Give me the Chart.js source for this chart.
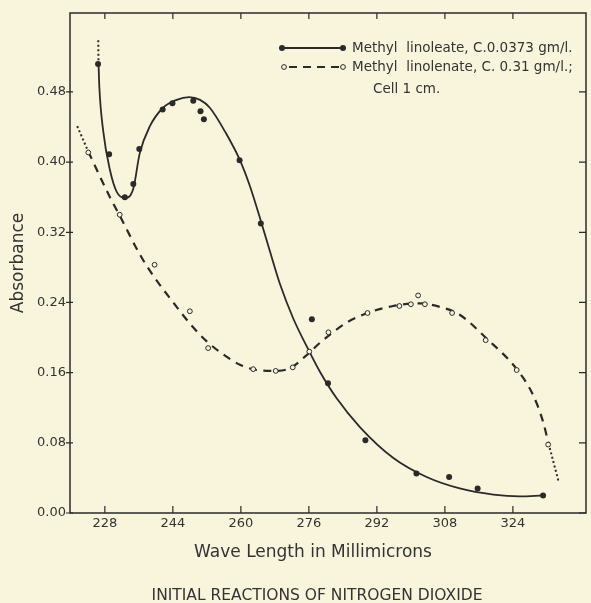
<!DOCTYPE html>
<html>
<head>
<meta charset="utf-8">
<script src="https://cdn.jsdelivr.net/npm/chart.js@4.4.1/dist/chart.umd.min.js"></script>
<style>
  html, body { margin: 0; padding: 0; background: #f8f5dc; }
  #wrap { width: 591px; height: 603px; position: relative; }
</style>
</head>
<body>
<div id="wrap"><canvas id="chart"></canvas></div>
<script>
// tick labels
const xTicks = [228, 244, 260, 276, 292, 308, 324];
const yTicks = [0, 0.08, 0.16, 0.24, 0.32, 0.40, 0.48];

// measured points, methyl linoleate (filled dots)
const linoleateWl = [226.4, 229.0, 232.7, 234.7, 236.1, 241.6, 243.9, 248.8, 250.5, 251.3, 259.7, 264.7, 276.7, 280.5, 289.3, 301.3, 309.0, 315.7, 331.1];
const linoleateAbs = [0.512, 0.409, 0.360, 0.375, 0.415, 0.460, 0.467, 0.470, 0.458, 0.449, 0.402, 0.330, 0.221, 0.148, 0.083, 0.045, 0.041, 0.028, 0.020];

// measured points, methyl linolenate (open circles)
const linolenateWl = [224.1, 231.5, 239.7, 248.0, 252.3, 262.9, 268.2, 272.2, 276.1, 280.6, 289.8, 297.3, 300.0, 301.7, 303.3, 309.7, 317.6, 324.9, 332.3];
const linolenateAbs = [0.411, 0.340, 0.283, 0.230, 0.188, 0.164, 0.162, 0.166, 0.184, 0.206, 0.228, 0.236, 0.238, 0.248, 0.238, 0.228, 0.197, 0.163, 0.078];

// drawn curves
const linoleateCurveWl = [226.5, 226.7, 227.6, 229.2, 230.8, 232.7, 234.7, 236.2, 238.6, 241.7, 244.9, 247.8, 250.4, 252.7, 256.6, 259.8, 262.1, 264.7, 266.8, 269.2, 272.3, 275.8, 278.6, 282.5, 288.0, 295.8, 303.7, 311.5, 319.4, 325.6, 331.1];
const linoleateCurveAbs = [0.514, 0.486, 0.436, 0.391, 0.366, 0.359, 0.370, 0.410, 0.441, 0.462, 0.471, 0.474, 0.471, 0.462, 0.432, 0.402, 0.373, 0.333, 0.299, 0.261, 0.222, 0.187, 0.161, 0.131, 0.098, 0.063, 0.041, 0.028, 0.021, 0.019, 0.020];
const linoleateDottedWl = [226.45, 226.5];
const linoleateDottedAbs = [0.539, 0.514];

const linolenateCurveWl = [224.1, 229.2, 231.5, 236.2, 239.6, 244.1, 248.0, 251.9, 255.8, 259.8, 263.7, 267.6, 271.5, 275.5, 278.6, 284.9, 289.8, 295.8, 302.1, 306.8, 311.5, 317.8, 324.9, 328.8, 331.1, 332.4];
const linolenateCurveAbs = [0.412, 0.360, 0.339, 0.295, 0.269, 0.240, 0.216, 0.196, 0.181, 0.169, 0.163, 0.162, 0.165, 0.180, 0.194, 0.217, 0.228, 0.236, 0.239, 0.235, 0.226, 0.199, 0.164, 0.134, 0.104, 0.079];
const linolenateStartWl = [221.5, 224.1];
const linolenateStartAbs = [0.441, 0.412];
const linolenateEndWl = [332.4, 334.8];
const linolenateEndAbs = [0.079, 0.035];

const paper = "#f8f5dc";
const ink = "#2a2a2a";
const font = "'DejaVu Sans', sans-serif";

const pts = (xs, ys) => xs.map((x, i) => ({ x, y: ys[i] }));

function curve(xs, ys, dash, width) {
  return {
    data: pts(xs, ys),
    showLine: true,
    borderColor: ink,
    borderWidth: width || 1.8,
    borderDash: dash || [],
    pointRadius: 0,
    cubicInterpolationMode: "monotone",
    order: 2
  };
}

const framePlugin = {
  id: "frame",
  beforeDraw(chart) {
    const { ctx, width, height } = chart;
    ctx.save();
    ctx.fillStyle = paper;
    ctx.fillRect(0, 0, width, height);
    ctx.restore();
  },
  afterDraw(chart) {
    const { ctx, chartArea: a, scales } = chart;
    const xs = scales.x, ys = scales.y;
    ctx.save();
    ctx.strokeStyle = ink;
    ctx.lineWidth = 1.5;
    ctx.strokeRect(a.left, a.top, a.right - a.left, a.bottom - a.top);
    ctx.lineWidth = 1.2;
    ctx.beginPath();
    xTicks.forEach(v => {
      const x = xs.getPixelForValue(v);
      ctx.moveTo(x, a.bottom); ctx.lineTo(x, a.bottom - 7);
      ctx.moveTo(x, a.top); ctx.lineTo(x, a.top + 6);
    });
    yTicks.forEach(v => {
      const y = ys.getPixelForValue(v);
      ctx.moveTo(a.left - 4, y); ctx.lineTo(a.left + 3, y);
      ctx.moveTo(a.right, y); ctx.lineTo(a.right - 7, y);
    });
    ctx.stroke();

    // legend
    ctx.lineWidth = 1.8;
    ctx.beginPath();
    ctx.moveTo(282, 48); ctx.lineTo(343, 48);
    ctx.stroke();
    ctx.fillStyle = ink;
    [282, 343].forEach(x => {
      ctx.beginPath(); ctx.arc(x, 48, 3, 0, Math.PI * 2); ctx.fill();
    });
    ctx.lineWidth = 2.2;
    ctx.setLineDash([8, 6]);
    ctx.beginPath();
    ctx.moveTo(289, 67); ctx.lineTo(340, 67);
    ctx.stroke();
    ctx.setLineDash([]);
    ctx.lineWidth = 1;
    [284, 343].forEach(x => {
      ctx.beginPath(); ctx.arc(x, 67, 2.4, 0, Math.PI * 2);
      ctx.fillStyle = paper; ctx.fill(); ctx.stroke();
    });
    ctx.fillStyle = "#333";
    ctx.font = "13.5px " + font;
    ctx.textAlign = "left";
    ctx.textBaseline = "middle";
    ctx.fillText("Methyl  linoleate, C.0.0373 gm/l.", 352, 48);
    ctx.fillText("Methyl  linolenate, C. 0.31 gm/l.;", 352, 67);
    ctx.fillText("Cell 1 cm.", 373, 89);

    // axis title and caption
    ctx.textAlign = "center";
    ctx.font = "17px " + font;
    ctx.fillText("Wave Length in Millimicrons", 313, 553);
    ctx.font = "15.5px " + font;
    ctx.fillText("INITIAL REACTIONS OF NITROGEN DIOXIDE", 317, 596);
    ctx.restore();
  }
};

new Chart(document.getElementById("chart"), {
  type: "scatter",
  data: {
    datasets: [
      {
        label: "Methyl linoleate, C.0.0373 gm/l.",
        data: pts(linoleateWl, linoleateAbs),
        pointRadius: 3,
        pointBackgroundColor: ink,
        pointBorderWidth: 0,
        order: 0
      },
      {
        label: "Methyl linolenate, C. 0.31 gm/l.; Cell 1 cm.",
        data: pts(linolenateWl, linolenateAbs),
        pointRadius: 2.4,
        pointBackgroundColor: paper,
        pointBorderColor: ink,
        pointBorderWidth: 1,
        order: 0
      },
      curve(linoleateCurveWl, linoleateCurveAbs),
      curve(linoleateDottedWl, linoleateDottedAbs, [2, 2.5], 2),
      curve(linolenateCurveWl, linolenateCurveAbs, [8, 6.5], 2.2),
      curve(linolenateStartWl, linolenateStartAbs, [2, 2.5], 2),
      curve(linolenateEndWl, linolenateEndAbs, [2, 2.5], 2)
    ]
  },
  options: {
    responsive: true,
    maintainAspectRatio: false,
    animation: false,
    layout: { padding: { top: 13, right: 5, left: 0, bottom: 0 } },
    plugins: {
      legend: { display: false },
      tooltip: { enabled: false }
    },
    scales: {
      x: {
        type: "linear",
        min: 219.8,
        max: 341.2,
        grid: { display: false, drawTicks: false },
        border: { display: false },
        afterBuildTicks: s => { s.ticks = xTicks.map(v => ({ value: v })); },
        afterFit: s => { s.height = 90; },
        ticks: {
          padding: 3,
          color: "#333",
          font: { family: font, size: 13 },
          callback: v => String(v)
        }
      },
      y: {
        min: 0,
        max: 0.57,
        grid: { display: false, drawTicks: false },
        border: { display: false },
        afterBuildTicks: s => { s.ticks = yTicks.map(v => ({ value: v })); },
        afterFit: s => { s.width = 70; },
        ticks: {
          padding: 4,
          color: "#333",
          font: { family: font, size: 13 },
          callback: v => v.toFixed(2)
        },
        title: {
          display: true,
          text: "Absorbance",
          color: "#333",
          font: { family: font, size: 17 },
          padding: { top: 8, bottom: 0 }
        }
      }
    }
  },
  plugins: [framePlugin]
});
</script>
</body>
</html>
